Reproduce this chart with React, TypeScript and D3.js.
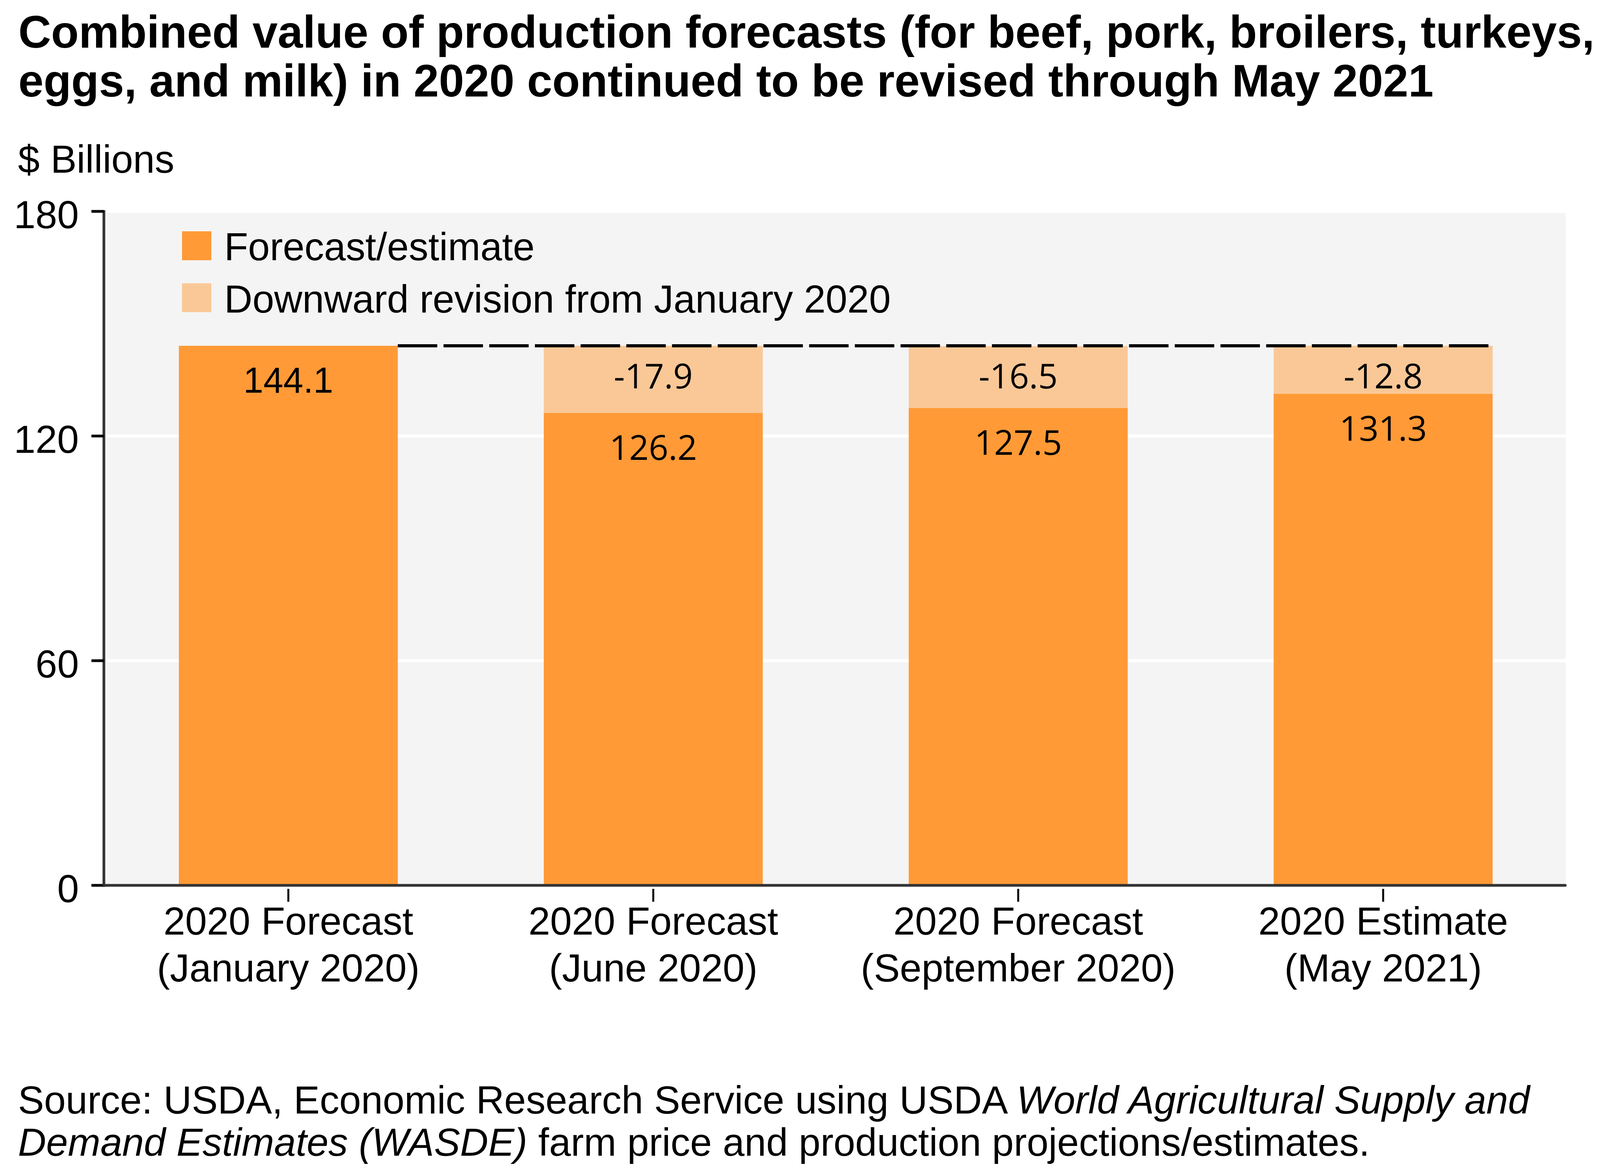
import React from "react";
import * as d3 from "d3";

const categoriesLine1 = ["2020 Forecast", "2020 Forecast", "2020 Forecast", "2020 Estimate"];
const categoriesLine2 = ["(January 2020)", "(June 2020)", "(September 2020)", "(May 2021)"];
const forecastValues = [144.1, 126.2, 127.5, 131.3];
const revisionValues = [0, 17.9, 16.5, 12.8];
const yTicks = [0, 60, 120, 180];
const legendLabels = ["Forecast/estimate", "Downward revision from January 2020"];
const titleLines = [
  "Combined value of production forecasts (for beef, pork, broilers, turkeys,",
  "eggs, and milk) in 2020 continued to be revised through May 2021",
];

const W = 4158;
const H = 2992;
const ARIAL = "'Liberation Sans', Arial, sans-serif";
const MYRIAD = "'Open Sans', sans-serif";
const C_FORE = "#FF9A36";
const C_REV = "#FAC897";

export default function App() {
  const plotLeft = 271;
  const plotRight = 4008;
  const plotTop = 545;
  const plotBottom = 2263;

  const x = d3
    .scaleBand<number>()
    .domain(d3.range(categoriesLine1.length))
    .range([plotLeft, plotRight])
    .paddingInner(0.4)
    .paddingOuter(0.2);
  const y = d3.scaleLinear().domain([0, 180]).range([2266, 541]);
  const bw = x.bandwidth();
  const baseline = forecastValues[0];

  return (
    <svg
      width={W}
      height={H}
      style={{ position: "absolute", left: 0, top: 0, background: "#fff" }}
    >
      {/* Title */}
      <text fontFamily={ARIAL} fontWeight="bold" fontSize={116} fill="#000">
        {titleLines.map((t, i) => (
          <tspan key={i} x={47} y={122 + i * 125}>
            {t}
          </tspan>
        ))}
      </text>
      <text x={46} y={442} fontFamily={ARIAL} fontSize={100} fill="#000">
        $ Billions
      </text>

      {/* Plot background */}
      <rect x={plotLeft} y={plotTop} width={plotRight - plotLeft} height={plotBottom - plotTop} fill="#F4F4F4" />
      {yTicks
        .filter((t) => t > 0 && t < 180)
        .map((t) => (
          <line key={t} x1={plotLeft} x2={plotRight} y1={y(t)} y2={y(t)} stroke="#fff" strokeWidth={8} />
        ))}

      {/* Legend */}
      {legendLabels.map((l, i) => (
        <g key={l}>
          <rect x={466} y={592 + i * 133} width={75} height={74} fill={i === 0 ? C_FORE : C_REV} />
          <text x={574} y={666 + i * 134} fontFamily={ARIAL} fontSize={100} fill="#000">
            {l}
          </text>
        </g>
      ))}

      {/* Bars */}
      {forecastValues.map((v, i) => {
        const x0 = x(i)!;
        return (
          <g key={i}>
            <rect x={x0} y={y(v)} width={bw} height={y(0) - y(v)} fill={C_FORE} />
            {revisionValues[i] > 0 && (
              <rect x={x0} y={y(v + revisionValues[i])} width={bw} height={y(v) - y(v + revisionValues[i])} fill={C_REV} />
            )}
          </g>
        );
      })}

      {/* Dashed reference line */}
      <line
        x1={x(0)! + bw}
        x2={x(categoriesLine1.length - 1)! + bw}
        y1={y(baseline)}
        y2={y(baseline)}
        stroke="#000"
        strokeWidth={8}
        strokeDasharray="101 16"
      />

      {/* Value labels */}
      {forecastValues.map((v, i) => {
        const cx = x(i)! + bw / 2;
        return (
          <g key={i}>
            <text
              x={cx}
              y={y(v) + 120}
              textAnchor="middle"
              fontFamily={i === 0 ? ARIAL : MYRIAD}
              fontSize={i === 0 ? 92 : 88}
              fill="#000"
            >
              {v.toFixed(1)}
            </text>
            {revisionValues[i] > 0 && (
              <text x={cx} y={y(baseline) + 109} textAnchor="middle" fontFamily={MYRIAD} fontSize={88} fill="#000">
                {"-" + revisionValues[i].toFixed(1)}
              </text>
            )}
          </g>
        );
      })}

      {/* Y axis */}
      <line x1={266} x2={266} y1={538} y2={2270} stroke="#333" strokeWidth={7} />
      {yTicks.map((t) => (
        <g key={t}>
          <line x1={234} x2={266} y1={y(t)} y2={y(t)} stroke="#000" strokeWidth={7} />
          <text x={202} y={y(t) + 43} textAnchor="end" fontFamily={ARIAL} fontSize={100} fill="#000">
            {t}
          </text>
        </g>
      ))}

      {/* X axis */}
      <line x1={266} x2={4007} y1={y(0)} y2={y(0)} stroke="#333" strokeWidth={7} strokeLinecap="round" />
      {categoriesLine1.map((c, i) => {
        const cx = x(i)! + bw / 2;
        return (
          <g key={i}>
            <line x1={cx} x2={cx} y1={2275} y2={2308} stroke="#000" strokeWidth={5} />
            <text textAnchor="middle" fontFamily={ARIAL} fontSize={100} fill="#000">
              <tspan x={cx} y={2392}>
                {c}
              </tspan>
              <tspan x={cx} y={2512}>
                {categoriesLine2[i]}
              </tspan>
            </text>
          </g>
        );
      })}

      {/* Source */}
      <text fontFamily={ARIAL} fontSize={100} fill="#000">
        <tspan x={46} y={2850}>
          Source: USDA, Economic Research Service using USDA{" "}
          <tspan fontStyle="italic">World Agricultural Supply and</tspan>
        </tspan>
        <tspan x={46} y={2958}>
          <tspan fontStyle="italic">Demand Estimates (WASDE)</tspan> farm price and production projections/estimates.
        </tspan>
      </text>
    </svg>
  );
}
